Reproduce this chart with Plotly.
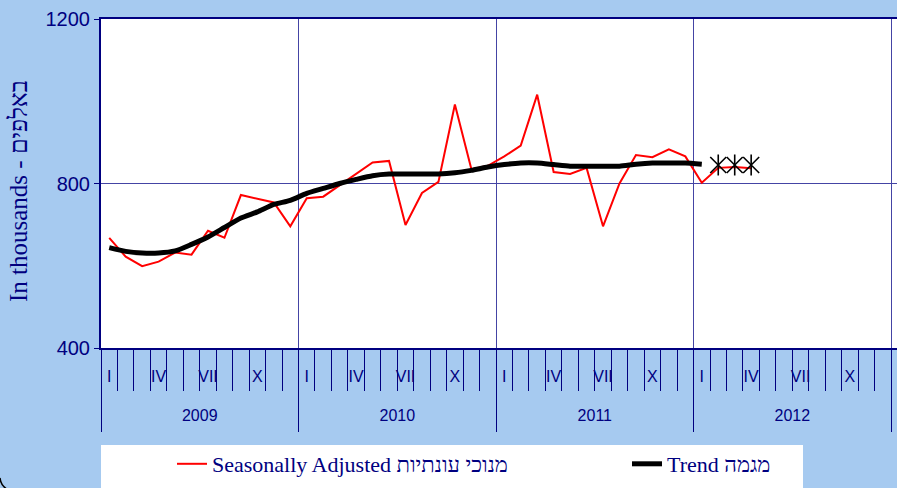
import plotly.graph_objects as go

# ---------------- data ----------------
years = ["2009", "2010", "2011", "2012"]
month_labels = ["I", "", "", "IV", "", "", "VII", "", "", "X", "", ""]

seasonally_adjusted = [
    668, 622, 599, 610, 632, 627, 685, 668, 772, 763, 754, 696,   # 2009
    764, 768, 796, 824, 851, 855, 699, 777, 804, 992, 835, 843,   # 2010
    866, 892, 1016, 828, 823, 838, 696, 800, 869, 864, 883, 866,  # 2011
    802, 838, 840, 837,                                           # 2012
]
trend = [
    644, 635, 631, 631, 636, 652, 670, 693, 716, 731, 749, 759,
    776, 788, 800, 810, 819, 823, 823, 823, 823, 826, 832, 840,
    846, 850, 850, 846, 842, 842, 842, 842, 847, 850, 850, 850,
    847,
]
estimate_start = 37          # Feb 2012
estimate = [845, 845, 845]   # Feb-Apr 2012 (asterisk markers)

y_ticks = [400, 800, 1200]

# ---------------- helpers ----------------
NAVY = "#000080"
n_months = len(years) * 12
x_sa = list(range(len(seasonally_adjusted)))
x_tr = list(range(len(trend)))
x_est = list(range(estimate_start, estimate_start + len(estimate)))

month_bounds = [i - 0.5 for i in range(n_months + 1)]
year_bounds = [i * 12 - 0.5 for i in range(len(years) + 1)]
label_pos = [y * 12 + m for y in range(len(years)) for m in range(12) if month_labels[m]]
label_txt = [month_labels[m] for y in range(len(years)) for m in range(12) if month_labels[m]]
year_pos = [y * 12 + 5.5 for y in range(len(years))]
xr = [-0.5, 47.86]

fig = go.Figure()
fig.add_trace(go.Scatter(
    x=x_sa, y=seasonally_adjusted, mode="lines",
    name="Seasonally Adjusted מנוכי עונתיות",
    line=dict(color="#FF0000", width=2),
    legendwidth=410,
))
fig.add_trace(go.Scatter(
    x=x_tr, y=trend, mode="lines", name="Trend מגמה",
    line=dict(color="black", width=5, shape="spline", smoothing=0.6),
))
fig.add_trace(go.Scatter(
    x=x_est, y=estimate, mode="markers", showlegend=False,
    marker=dict(symbol="x-thin-open", size=16, color="black",
                line=dict(color="black", width=1.6)),
))
fig.add_trace(go.Scatter(
    x=x_est, y=estimate, mode="markers", showlegend=False,
    marker=dict(symbol="line-ns-open", size=15, color="black",
                line=dict(color="black", width=1.6)),
))
# invisible anchors so the overlaid tick axes are drawn
for ax in ["x2", "x3", "x4"]:
    fig.add_trace(go.Scatter(
        x=x_sa[:1], y=seasonally_adjusted[:1], xaxis=ax, mode="markers",
        marker=dict(opacity=0), showlegend=False, hoverinfo="skip",
    ))

fig.update_layout(
    width=897, height=488,
    margin=dict(l=101, r=0, t=19, b=140, autoexpand=False),
    paper_bgcolor="#A6CAF0",
    plot_bgcolor="white",
    showlegend=True,
    legend=dict(
        orientation="h", x=(172 - 101) / 796, xanchor="left",
        y=(348 - 464) / 329, yanchor="middle",
        bgcolor="rgba(0,0,0,0)",
        font=dict(family="Liberation Serif", size=22, color=NAVY),
    ),
    xaxis=dict(
        range=xr, tickmode="array", tickvals=year_bounds,
        ticks="outside", ticklen=82, tickwidth=1, tickcolor=NAVY,
        showticklabels=False,
        showgrid=True, gridcolor="#4444A4", gridwidth=1,
        showline=True, linecolor=NAVY, linewidth=2, mirror=True,
        zeroline=False, automargin=False,
    ),
    xaxis2=dict(
        range=xr, overlaying="x", anchor="y", side="bottom",
        tickmode="array", tickvals=month_bounds,
        ticks="outside", ticklen=42, tickwidth=1, tickcolor=NAVY,
        showticklabels=False, showgrid=False, showline=False, zeroline=False,
        automargin=False,
    ),
    xaxis3=dict(
        range=xr, overlaying="x", anchor="y", side="bottom",
        tickmode="array", tickvals=label_pos, ticktext=label_txt,
        ticks="outside", ticklen=14, tickcolor="rgba(0,0,0,0)",
        tickfont=dict(family="Liberation Sans", size=16, color=NAVY),
        showgrid=False, showline=False, zeroline=False, automargin=False,
    ),
    xaxis4=dict(
        range=xr, overlaying="x", anchor="y", side="bottom",
        tickmode="array", tickvals=year_pos, ticktext=years,
        ticks="outside", ticklen=53, tickcolor="rgba(0,0,0,0)",
        tickfont=dict(family="Liberation Sans", size=16, color=NAVY),
        showgrid=False, showline=False, zeroline=False, automargin=False,
    ),
    yaxis=dict(
        range=[400, 1200], tickmode="array", tickvals=y_ticks,
        ticks="outside", ticklen=5, tickcolor=NAVY, tickwidth=1,
        tickfont=dict(family="Liberation Sans", size=20, color=NAVY),
        showgrid=True, gridcolor="#4444A4", gridwidth=1,
        showline=True, linecolor=NAVY, linewidth=2,
        zeroline=False, automargin=False,
    ),
    shapes=[
        dict(type="rect", xref="paper", yref="paper",
             x0=0, x1=(803 - 101) / 796,
             y0=(348 - 445) / 329, y1=-0.45,
             fillcolor="white", line=dict(width=0), layer="above"),
        dict(type="path", xref="paper", yref="paper",
             path="M -0.1269,-0.395 Q -0.1256,-0.4225 -0.1156,-0.4316",
             line=dict(color="black", width=1.5)),
    ],
    annotations=[
        dict(text="In thousands - באלפים", xref="paper", yref="paper",
             x=(18 - 101) / 796, y=(348 - 191) / 329,
             xanchor="center", yanchor="middle", textangle=-90,
             showarrow=False,
             font=dict(family="Liberation Serif", size=25, color=NAVY)),
    ],
)

fig.write_html(
    "out.html",
    config={"responsive": False, "displayModeBar": False},
    post_script="document.body.style.margin='0px';"
                "document.body.style.overflow='hidden';",
)
